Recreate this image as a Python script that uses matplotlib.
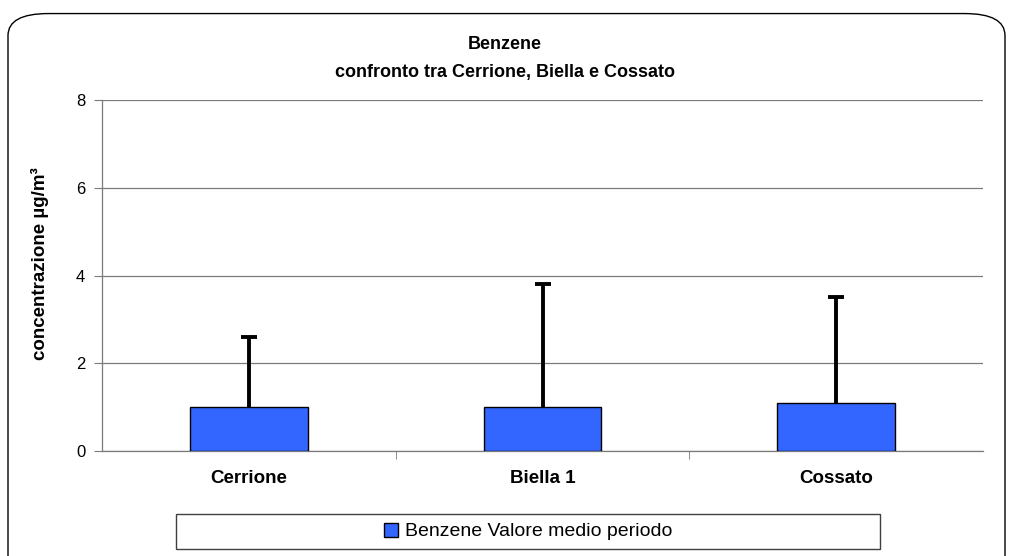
import matplotlib.pyplot as plt
from matplotlib.patches import FancyBboxPatch, Rectangle
import numpy as np

plt.rcParams["font.family"] = ["Liberation Sans", "DejaVu Sans"]

stations = ["Cerrione", "Biella 1", "Cossato"]
mean_values = [1.0, 1.0, 1.1]
upper_err = [1.6, 2.8, 2.4]
series_label = "Benzene Valore medio periodo"
y_ticks = [0, 2, 4, 6, 8]

BAR_COLOR = "#3366ff"
GRID_COLOR = "#7a7a7a"

fig = plt.figure(figsize=(10.1, 5.56), dpi=100)
fig.patch.set_facecolor("white")

# rounded outer frame (bottom edge runs off the image)
frame = FancyBboxPatch((8 / 1010, -0.05), 997 / 1010, (548 / 556) + 0.04,
                       boxstyle="round,pad=0,rounding_size=0.04",
                       transform=fig.transFigure, fill=False,
                       edgecolor="black", linewidth=1.0, mutation_aspect=556 / 1010 * 1.8)
fig.patches.append(frame)

ax = fig.add_axes([102 / 1010, 1 - 451 / 556, 881 / 1010, 351 / 556])
x = np.arange(len(stations))
ax.bar(x, mean_values, width=0.4, color=BAR_COLOR, edgecolor="black",
       linewidth=1.0, label=series_label, zorder=3)
_, caps, _ = ax.errorbar(x, mean_values, yerr=[np.zeros(len(x)), upper_err], fmt="none",
                         ecolor="black", elinewidth=2.8, capsize=5.5, capthick=2.8, zorder=4)
caps[0].set_visible(False)  # only the upper cap

ax.set_xlim(-0.5, len(stations) - 0.5)
ax.set_ylim(0, 8)
ax.set_yticks(y_ticks)
ax.set_yticklabels([str(t) for t in y_ticks], fontsize=12)
ax.yaxis.grid(True, color=GRID_COLOR, linewidth=0.9, zorder=0)
ax.set_axisbelow(True)

ax.set_xticks(x)
ax.set_xticklabels(stations, fontsize=13.5, fontweight="bold")
ax.tick_params(axis="x", length=0, pad=14)
ax.set_xticks(np.arange(0.5, len(stations) - 0.5, 1.0), minor=True)
ax.tick_params(axis="x", which="minor", length=6, color=GRID_COLOR, direction="out")
ax.tick_params(axis="y", length=6, color=GRID_COLOR, pad=6)

for side in ("top", "right"):
    ax.spines[side].set_visible(False)
for side in ("left", "bottom"):
    ax.spines[side].set_color(GRID_COLOR)
    ax.spines[side].set_linewidth(0.9)

ax.set_ylabel("concentrazione µg/m³", fontsize=13.5, fontweight="bold")
ax.yaxis.set_label_coords(-0.06, 0.535)

fig.text(0.5, 1 - 45 / 556, "Benzene", ha="center", va="center",
         fontsize=13, fontweight="bold")
fig.text(0.5, 1 - 72 / 556, "confronto tra Cerrione, Biella e Cossato", ha="center",
         va="center", fontsize=13, fontweight="bold")

# legend box
box = Rectangle((176 / 1010, 1 - 549 / 556), 704 / 1010, 35 / 556,
                transform=fig.transFigure, fill=True, facecolor="white",
                edgecolor="#404040", linewidth=1.0)
fig.patches.append(box)
leg = fig.legend(loc="center", bbox_to_anchor=(528 / 1010, 1 - 531.5 / 556),
                 fontsize=14, frameon=False,
                 handlelength=0.75, handleheight=0.75, handletextpad=0.35, borderaxespad=0)

fig.savefig("out.png", dpi=100, facecolor="white")
